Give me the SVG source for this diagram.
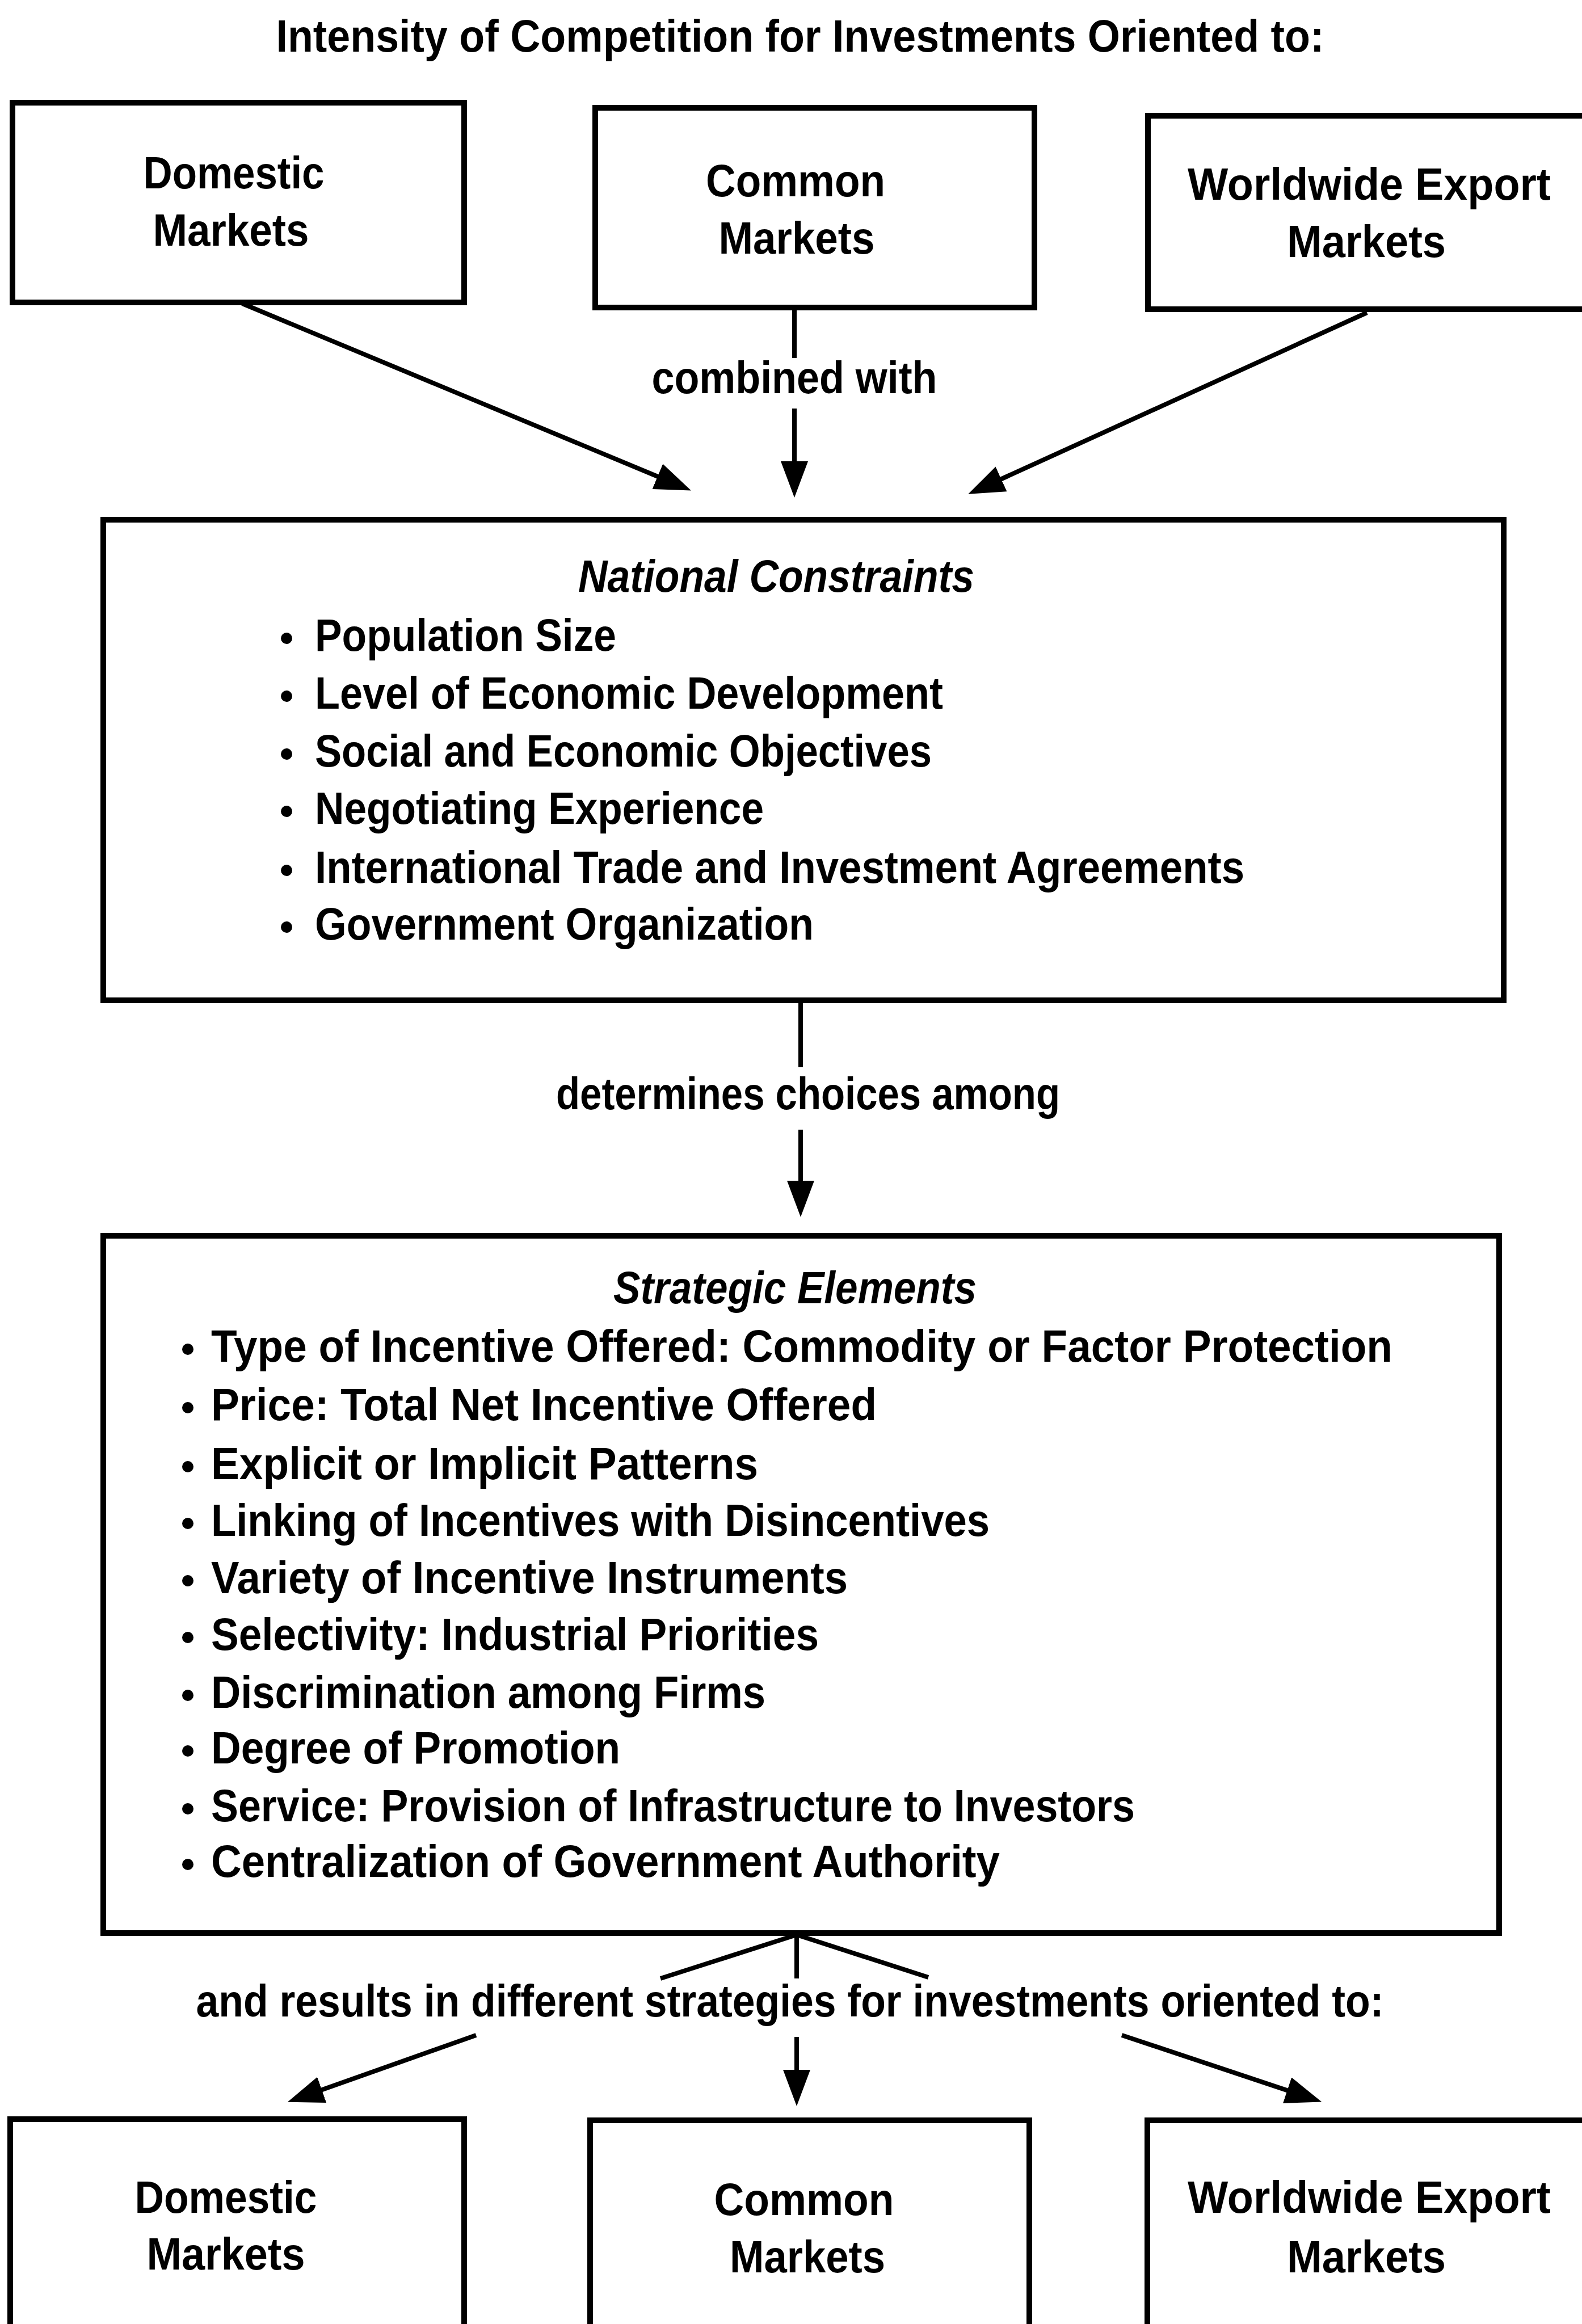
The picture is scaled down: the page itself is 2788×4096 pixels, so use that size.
<svg xmlns="http://www.w3.org/2000/svg" width="2788" height="4096" viewBox="0 0 2788 4096">
<style>
.box{fill:#fff;stroke:#000;stroke-width:10}
.t{font-family:"Liberation Sans",Arial,sans-serif;font-size:80px;font-weight:bold;fill:#000}
.c{text-anchor:middle}
.i{font-style:italic}
.ln{stroke:#000;stroke-width:8;fill:none}
.ar{marker-end:url(#ah)}
.b{fill:#000}
</style>
<defs>
<marker id="ah" viewBox="0 0 64 48" refX="50" refY="24" markerWidth="64" markerHeight="48" markerUnits="userSpaceOnUse" orient="auto">
<path d="M0,0 L64,24 L0,48 z" fill="#000"/>
</marker>
</defs>
<rect width="2788" height="4096" fill="#fff"/>
<text class="t c" x="1410" y="91" font-size="86" textLength="1847" lengthAdjust="spacingAndGlyphs">Intensity of Competition for Investments Oriented to:</text>

<g id="top-domestic">
<rect class="box" x="22" y="181" width="796" height="352"/>
<text class="t c" x="412" y="332" textLength="319" lengthAdjust="spacingAndGlyphs">Domestic</text>
<text class="t c" x="407" y="433" textLength="275" lengthAdjust="spacingAndGlyphs">Markets</text>
</g>
<g id="top-common">
<rect class="box" x="1049" y="190" width="774" height="352"/>
<text class="t c" x="1402" y="346" textLength="316" lengthAdjust="spacingAndGlyphs">Common</text>
<text class="t c" x="1404" y="447" textLength="275" lengthAdjust="spacingAndGlyphs">Markets</text>
</g>
<g id="top-worldwide">
<rect class="box" x="2023" y="204" width="800" height="341"/>
<text class="t c" x="2413" y="352" textLength="640" lengthAdjust="spacingAndGlyphs">Worldwide Export</text>
<text class="t c" x="2408" y="453" textLength="280" lengthAdjust="spacingAndGlyphs">Markets</text>
</g>

<g id="national">
<rect class="box" x="182" y="916" width="2468" height="847"/>
<text class="t c i" x="1368" y="1043" textLength="698" lengthAdjust="spacingAndGlyphs">National Constraints</text>
<circle class="b" cx="505" cy="1125" r="10"/>
<text class="t" x="555" y="1147" textLength="531" lengthAdjust="spacingAndGlyphs">Population Size</text>
<circle class="b" cx="505" cy="1227" r="10"/>
<text class="t" x="555" y="1249" textLength="1107" lengthAdjust="spacingAndGlyphs">Level of Economic Development</text>
<circle class="b" cx="505" cy="1329" r="10"/>
<text class="t" x="555" y="1351" textLength="1087" lengthAdjust="spacingAndGlyphs">Social and Economic Objectives</text>
<circle class="b" cx="505" cy="1430" r="10"/>
<text class="t" x="555" y="1452" textLength="791" lengthAdjust="spacingAndGlyphs">Negotiating Experience</text>
<circle class="b" cx="505" cy="1534" r="10"/>
<text class="t" x="555" y="1556" textLength="1638" lengthAdjust="spacingAndGlyphs">International Trade and Investment Agreements</text>
<circle class="b" cx="505" cy="1634" r="10"/>
<text class="t" x="555" y="1656" textLength="879" lengthAdjust="spacingAndGlyphs">Government Organization</text>
</g>

<g id="strategic">
<rect class="box" x="182" y="2178" width="2460" height="1229"/>
<text class="t c i" x="1401" y="2297" textLength="640" lengthAdjust="spacingAndGlyphs">Strategic Elements</text>
<circle class="b" cx="331" cy="2378" r="10"/>
<text class="t" x="372" y="2400" textLength="2082" lengthAdjust="spacingAndGlyphs">Type of Incentive Offered: Commodity or Factor Protection</text>
<circle class="b" cx="331" cy="2481" r="10"/>
<text class="t" x="372" y="2503" textLength="1173" lengthAdjust="spacingAndGlyphs">Price: Total Net Incentive Offered</text>
<circle class="b" cx="331" cy="2585" r="10"/>
<text class="t" x="372" y="2607" textLength="964" lengthAdjust="spacingAndGlyphs">Explicit or Implicit Patterns</text>
<circle class="b" cx="331" cy="2685" r="10"/>
<text class="t" x="372" y="2707" textLength="1372" lengthAdjust="spacingAndGlyphs">Linking of Incentives with Disincentives</text>
<circle class="b" cx="331" cy="2786" r="10"/>
<text class="t" x="372" y="2808" textLength="1122" lengthAdjust="spacingAndGlyphs">Variety of Incentive Instruments</text>
<circle class="b" cx="331" cy="2886" r="10"/>
<text class="t" x="372" y="2908" textLength="1071" lengthAdjust="spacingAndGlyphs">Selectivity: Industrial Priorities</text>
<circle class="b" cx="331" cy="2988" r="10"/>
<text class="t" x="372" y="3010" textLength="977" lengthAdjust="spacingAndGlyphs">Discrimination among Firms</text>
<circle class="b" cx="331" cy="3086" r="10"/>
<text class="t" x="372" y="3108" textLength="721" lengthAdjust="spacingAndGlyphs">Degree of Promotion</text>
<circle class="b" cx="331" cy="3188" r="10"/>
<text class="t" x="372" y="3210" textLength="1628" lengthAdjust="spacingAndGlyphs">Service: Provision of Infrastructure to Investors</text>
<circle class="b" cx="331" cy="3286" r="10"/>
<text class="t" x="372" y="3308" textLength="1390" lengthAdjust="spacingAndGlyphs">Centralization of Government Authority</text>
</g>

<g id="bottom-domestic">
<rect class="box" x="18" y="3735" width="800" height="400"/>
<text class="t c" x="398" y="3900" textLength="321" lengthAdjust="spacingAndGlyphs">Domestic</text>
<text class="t c" x="398" y="4000" textLength="279" lengthAdjust="spacingAndGlyphs">Markets</text>
</g>
<g id="bottom-common">
<rect class="box" x="1040" y="3737" width="774" height="400"/>
<text class="t c" x="1417" y="3904" textLength="317" lengthAdjust="spacingAndGlyphs">Common</text>
<text class="t c" x="1423" y="4005" textLength="274" lengthAdjust="spacingAndGlyphs">Markets</text>
</g>
<g id="bottom-worldwide">
<rect class="box" x="2022" y="3737" width="800" height="400"/>
<text class="t c" x="2413" y="3900" textLength="640" lengthAdjust="spacingAndGlyphs">Worldwide Export</text>
<text class="t c" x="2408" y="4005" textLength="280" lengthAdjust="spacingAndGlyphs">Markets</text>
</g>

<g id="connectors">
<line class="ln ar" x1="427" y1="535" x2="1205" y2="859"/>
<line class="ln" x1="1400" y1="542" x2="1400" y2="631"/>
<text class="t c" x="1400" y="693" textLength="503" lengthAdjust="spacingAndGlyphs">combined with</text>
<line class="ln ar" x1="1400" y1="720" x2="1400" y2="863"/>
<line class="ln ar" x1="2409" y1="551" x2="1719" y2="865"/>

<line class="ln" x1="1411" y1="1763" x2="1411" y2="1881"/>
<text class="t c" x="1424" y="1955" textLength="888" lengthAdjust="spacingAndGlyphs">determines choices among</text>
<line class="ln ar" x1="1411" y1="1991" x2="1411" y2="2131"/>

<line class="ln" x1="1404" y1="3410" x2="1164" y2="3487"/>
<line class="ln" x1="1404" y1="3410" x2="1404" y2="3487"/>
<line class="ln" x1="1404" y1="3410" x2="1636" y2="3485"/>
<text class="t c" x="1392" y="3554" textLength="2093" lengthAdjust="spacingAndGlyphs">and results in different strategies for investments oriented to:</text>
<line class="ln ar" x1="839" y1="3587" x2="520" y2="3700"/>
<line class="ln ar" x1="1404" y1="3590" x2="1404" y2="3698"/>
<line class="ln ar" x1="1977" y1="3587" x2="2316" y2="3700"/>
</g>
</svg>
